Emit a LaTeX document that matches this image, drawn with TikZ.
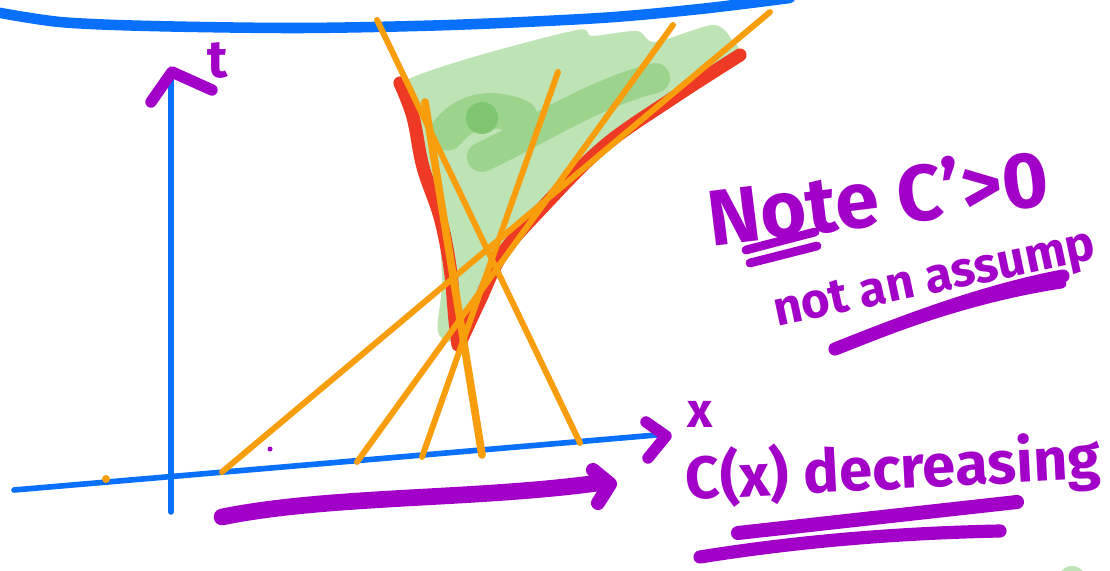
\documentclass[tikz,border=0pt]{standalone}
\usepackage{fontspec}
\setsansfont{Fira Sans}
\usetikzlibrary{positioning, arrows.meta}
\definecolor{penblue}{RGB}{8,112,250}
\definecolor{penred}{RGB}{238,58,36}
\definecolor{penorange}{RGB}{248,158,12}
\definecolor{penpurple}{RGB}{162,0,200}
\definecolor{greenlight}{RGB}{190,227,180}
\definecolor{greenmid}{RGB}{156,211,141}
\definecolor{greendark}{RGB}{128,198,114}

\begin{document}
\begin{tikzpicture}[x=0.02cm, y=-0.02cm, line cap=round, line join=round,
    axis/.style={draw=penblue, line width=3.2pt},
    tangent/.style={draw=penorange, line width=3.4pt},
    ink/.style={draw=penpurple, line width=5pt},
    scrawl/.style={text=penpurple, inner sep=0pt}]
    \useasboundingbox (0,0) rectangle (1110,571);

    % Top boundary
    \draw[penblue, line width=6pt] plot[smooth] coordinates {(-5,12) (60,22) (150,26) (300,28) (450,25) (600,18) (700,9) (790,-2)};

    % Shaded region
    \fill[greenlight] plot[smooth cycle, tension=0.5] coordinates {(403,82) (470,58) (577,30) (592,36) (637,31) (655,42) (713,25) (732,40) (735,55) (668,99) (601,146) (541,206) (501,252) (478,299) (458,340) (438,332) (442,277) (433,187) (403,103)};
    \draw[greenmid, line width=20pt] (447,133) .. controls (465,110) and (490,105) .. (520,117);
    \draw[greenmid, line width=17pt] (482,157) .. controls (540,130) and (590,95) .. (655,78);
    \fill[greendark] (482,118) circle (16);
    \fill[greenlight] (1072,580) circle (14);

    % Envelope
    \draw[penred, line width=7.5pt] plot[smooth, tension=0.6] coordinates {(400,83) (413,117) (423,167) (440,217) (450,267) (455,320) (458,345)}
        -- plot[smooth, tension=0.6] coordinates {(460,343) (480,300) (503,253) (543,207) (603,147) (670,100) (740,55)};

    % Axes
    \coordinate (xstart) at (14,490);
    \coordinate (xend) at (668,434);
    \coordinate (ybot) at (171,512);
    \coordinate (ytop) at (171,80);
    \draw[axis] (xstart) -- (xend);
    \draw[axis] (ybot) -- (ytop);

    % Characteristics
    \draw[tangent] (377,20) -- (580,443);
    \draw[tangent, line width=4.4pt] (425,102) -- (482,455);
    \draw[tangent] (558,72) -- (422,457);
    \draw[tangent] (673,25) -- (357,462);
    \draw[tangent] (770,12) -- (222,472);
    \fill[penorange] (106,479) circle (4);
    \fill[penpurple] (270,449) circle (2.5);

    % Axis ends and labels
    \draw[ink, line width=6.5pt] (151,102) -- (172,72) -- (212,90);
    \draw[ink, line width=6.5pt] (646,422) -- (666,436) -- (648,458);
    \node[scrawl, font=\sffamily\bfseries\fontsize{30}{32}\selectfont] (tlab) at (218,60) {t};
    \node[scrawl, font=\sffamily\bfseries\fontsize{28}{30}\selectfont] (xlab) at (700,414) {x};

    % Notes
    \node[scrawl, rotate=7, font=\sffamily\bfseries\fontsize{45}{50}\selectfont] (note) at (878,196) {Note C'>0};
    \node[scrawl, rotate=12, font=\sffamily\bfseries\fontsize{28}{30}\selectfont] (assump) at (935,282) {not an assump};
    \node[scrawl, rotate=3, font=\sffamily\bfseries\fontsize{34}{36}\selectfont] (decr) at (893,470) {C(x) decreasing};
    \draw[ink] (746,250) -- (815,232);
    \draw[ink] (750,263) -- (817,246);
    \draw[ink, line width=7.5pt] (835,349) .. controls (920,315) and (990,290) .. (1063,276);
    \draw[ink, line width=5pt] (900,326) .. controls (960,305) and (1010,292) .. (1062,284);
    \draw[ink, line width=8pt] (738,533) -- (1017,502);
    \draw[ink, line width=7.5pt] (700,557) .. controls (800,541) and (900,533) .. (1000,531);

    % Direction of motion
    \draw[ink, line width=9.5pt] (222,517) .. controls (330,495) and (480,500) .. (605,482);
    \draw[ink, line width=8pt] (593,470) -- (610,484) -- (598,503);
\end{tikzpicture}
\end{document}
